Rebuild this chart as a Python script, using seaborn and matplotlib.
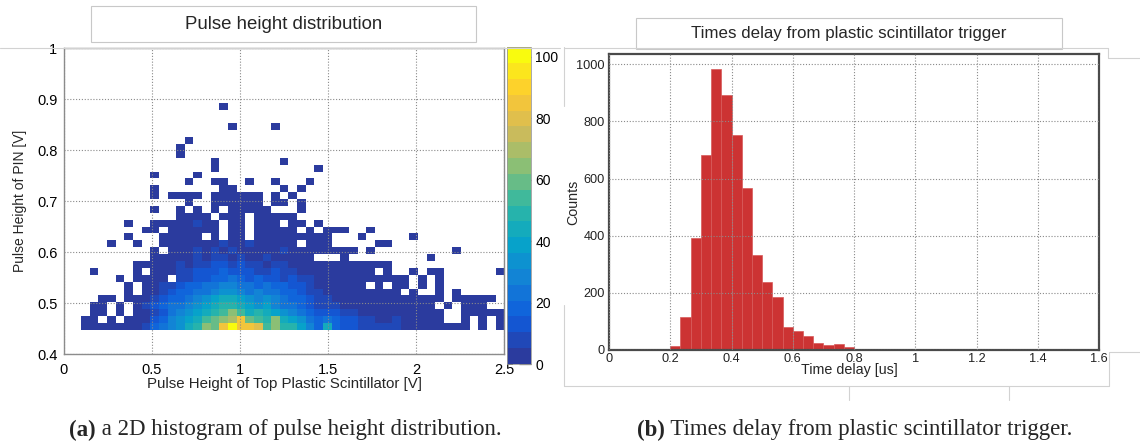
# Pulse height 2D histogram + time delay histogram (two-panel figure)

import numpy as np
import pandas as pd
import seaborn as sns
import matplotlib.pyplot as plt
from matplotlib.colors import LinearSegmentedColormap, ListedColormap
from matplotlib.patches import Rectangle
from matplotlib.lines import Line2D
from matplotlib.ticker import MultipleLocator, FormatStrFormatter

sns.set_style('white')
plt.rcParams['font.family'] = ['Liberation Sans', 'DejaVu Sans']

# ---- data: 2D histogram (x = top plastic scintillator, y = PIN) ----
x_edges = list(np.linspace(0.1, 2.5, 50))      # 49 bins
y_edges = list(np.linspace(0.448, 0.893, 34))  # 33 bins
# one string per y bin (top row first), one char per x bin, '.' = empty
ph_rows = [
    ".......... ......1... .......... .......... .........",
    ".......... .......... .......... .......... .........",
    ".......... .......... .......... .......... .........",
    ".......... .......1.. ..1....... .......... .........",
    ".......... .......... .......... .......... .........",
    ".......... ..1....... .......... .......... .........",
    ".......... .1........ .......... .......... .........",
    ".......... .1........ .......... .......... .........",
    ".......... .....1.... ...1...... .......... .........",
    ".......... .....1.... .......1.. .......... .........",
    "........1. ...1...... .......... .......... .........",
    ".......... ..1..11..1 ..1...1... .......... .........",
    "........1. ......11.. ...1.1.... .......... .........",
    "........1. 1111.11111 1.1.1..... .......... .........",
    ".......... ..1..11111 1.11.1.... .......... .........",
    "........1. .1.1.1.111 11...1.... .......... .........",
    ".......... .1111.111. 11111..... .......... .........",
    ".....1..11 111211.11. 111.11.1.. .......... .........",
    ".......11. 111111.11. 11111.1.11 1..1...... .........",
    ".....1...1 1111.1.11. 111111111. ..1.....1. .........",
    "...1..1..1 1111112112 11111.111. ....11.... .........",
    "........1. 1112121211 1112111111 11.1...... ...1.....",
    "........11 1112122121 1211111... 1......... 1........",
    "......1111 1212233232 2122111111 111111.... .........",
    ".1....1.11 1223334333 2232211111 1111.1..1. 11......1",
    "....1.1111 .223344543 4332322111 11111111.1 .1.......",
    ".....1.112 2344556655 4544332111 111.1.11.1 .1.......",
    ".....1.112 3445567765 6554432211 1111111.1. .1.1.....",
    "..11.11123 4456789987 6765443221 1111111111 11.11111.",
    ".11.1.1234 556789aa98 7865543222 1111111111 1.1.111..",
    ".11.1.1123 56789abdb9 a987654333 2211111111 11..11111",
    "11.1.11134 6789bcdehc bad9875454 3322112111 11..1.1.1",
    "1111111245 679adchkhh gbdaa86494 3322222111 11111.1.1",
]
# approximate counts for each colour band character
level_counts = {'1': 3, '2': 8, '3': 13, '4': 18, '5': 23, '6': 28, '7': 33,
                '8': 38, '9': 43, 'a': 48, 'b': 54, 'c': 59, 'd': 64, 'e': 69,
                'f': 74, 'g': 79, 'h': 85, 'i': 90, 'j': 95, 'k': 103}

# ---- data: time delay histogram ----
t_edges = list(0.2 + np.arange(25) / 30)
t_counts = [15, 115, 391, 681, 985, 893, 754, 568, 333, 239, 184, 80,
            66, 50, 25, 18, 21, 12, 5, 2, 3, 3, 5, 1]

# ROOT kBird-like palette (bottom stop nudged bluer), 20 contour levels
bird_stops = [0.0, 0.125, 0.25, 0.375, 0.5, 0.625, 0.75, 0.875, 1.0]
bird_r = [0.1700, 0.0592, 0.0780, 0.0232, 0.1802, 0.5301, 0.8186, 0.9956, 0.9764]
bird_g = [0.2300, 0.3599, 0.5041, 0.6419, 0.7178, 0.7492, 0.7328, 0.7862, 0.9832]
bird_b = [0.6200, 0.8684, 0.8385, 0.7914, 0.6425, 0.4662, 0.3499, 0.1968, 0.0539]
bird = LinearSegmentedColormap.from_list(
    'bird', list(zip(bird_stops, zip(bird_r, bird_g, bird_b))))
bird20 = ListedColormap(bird(np.linspace(0, 1, 20)))

# turn the row strings into a long table of weighted cell centres
recs = []
n_rows = len(ph_rows)
for i, row in enumerate(ph_rows):
    row = row.replace(' ', '')
    assert len(row) == len(x_edges) - 1, (i, len(row))
    iy = n_rows - 1 - i
    for ix, ch in enumerate(row):
        if ch != '.':
            recs.append(((x_edges[ix] + x_edges[ix + 1]) / 2,
                         (y_edges[iy] + y_edges[iy + 1]) / 2,
                         level_counts[ch]))
cells = pd.DataFrame(recs, columns=['ph_top', 'ph_pin', 'n'])

t_mid = [(a + b) / 2 for a, b in zip(t_edges[:-1], t_edges[1:])]
t_df = pd.DataFrame({'delay': t_mid, 'n': t_counts})

W, H = 1140, 445
fig = plt.figure(figsize=(W / 100, H / 100), dpi=100)


def fx(px):
    return px / W


def fy(py):
    return 1 - py / H


def box(l, t, r, b):
    return [fx(l), fy(b), (r - l) / W, (b - t) / H]


# faint frame lines left over from the screenshots
frame_lines = [((0, 47.5), (560, 47.5)), ((564, 47), (564, 106)),
               ((564, 305), (564, 386)), ((564, 48), (1108, 48)),
               ((1108, 48), (1108, 57.5)), ((1108, 57.5), (1140, 57.5)),
               ((564, 386), (1109, 386)), ((849, 386), (849, 400)),
               ((1009, 386), (1009, 400)), ((1109, 352), (1109, 386)),
               ((1109, 352), (1140, 352))]
for (x0, y0), (x1, y1) in frame_lines:
    fig.add_artist(Line2D([fx(x0), fx(x1)], [fy(y0), fy(y1)],
                          transform=fig.transFigure, color='#d2d2d2', lw=0.8))

ax1 = fig.add_axes(box(63.6, 48, 504.3, 354.4))
cax = fig.add_axes(box(506.7, 47.3, 531, 364))
ax2 = fig.add_axes(box(609, 54.3, 1099, 350))

sns.histplot(data=cells, x='ph_top', y='ph_pin', weights='n',
             bins=[x_edges, y_edges], cmap=bird20, vmin=0, vmax=103,
             cbar=True, cbar_ax=cax, ax=ax1)

sns.histplot(data=t_df, x='delay', weights='n', bins=t_edges,
             color='#cc3333', alpha=1, edgecolor='#d85a5a', linewidth=0.5,
             ax=ax2)

grid_kw = dict(color='#8a8a8a', linestyle=(0, (1, 1.6)), linewidth=0.8)

# left panel
ax1.set_xlim(0, 2.5)
ax1.set_ylim(0.4, 1.0)
ax1.xaxis.set_major_locator(MultipleLocator(0.5))
ax1.xaxis.set_minor_locator(MultipleLocator(0.1))
ax1.yaxis.set_major_locator(MultipleLocator(0.1))
ax1.yaxis.set_minor_locator(MultipleLocator(0.02))
ax1.xaxis.set_major_formatter(FormatStrFormatter('%g'))
ax1.yaxis.set_major_formatter(FormatStrFormatter('%g'))
ax1.grid(True, which='major', **grid_kw)
ax1.set_axisbelow(False)
ax1.tick_params(which='both', direction='in', colors='#555555',
                labelcolor='black', labelsize=10.5)
ax1.tick_params(which='major', length=8.5, width=0.9)
ax1.tick_params(which='minor', length=4.5, width=0.8)
ax1.tick_params(axis='x', pad=6)
ax1.tick_params(axis='y', pad=4.5)
for s in ax1.spines.values():
    s.set_color('#8c8c8c')
    s.set_linewidth(1.0)
ax1.set_xlabel('Pulse Height of Top Plastic Scintillator [V]', fontsize=10.8)
ax1.set_ylabel('Pulse Height of PIN [V]', fontsize=10)
ax1.xaxis.label.set_va('center')
ax1.yaxis.label.set_va('center')
ax1.xaxis.set_label_coords(0.502, -0.095)
ax1.yaxis.set_label_coords(-0.099, 0.5)

# colour bar
cax.set_yticks([0, 20, 40, 60, 80, 100])
cax.yaxis.set_major_formatter(FormatStrFormatter('%g'))
cax.tick_params(axis='y', direction='in', length=9, width=0.9,
                colors='#555555', labelcolor='black', labelsize=10, pad=3,
                right=True, left=False)
cax.minorticks_off()
cax.spines[:].set_color('#9a9a9a')
cax.spines[:].set_linewidth(0.6)

# right panel
ax2.set_xlim(0, 1.6)
ax2.set_ylim(0, 1035)
ax2.xaxis.set_major_locator(MultipleLocator(0.2))
ax2.xaxis.set_minor_locator(MultipleLocator(0.05))
ax2.yaxis.set_major_locator(MultipleLocator(200))
ax2.yaxis.set_minor_locator(MultipleLocator(50))
ax2.xaxis.set_major_formatter(FormatStrFormatter('%g'))
ax2.yaxis.set_major_formatter(FormatStrFormatter('%g'))
ax2.grid(True, which='major', **grid_kw)
ax2.set_axisbelow(False)
ax2.tick_params(which='both', direction='in', colors='#444444',
                labelcolor='#222222', labelsize=9.2)
ax2.tick_params(axis='y', which='major', length=12, width=1.0, pad=3)
ax2.tick_params(axis='y', which='minor', length=7, width=0.9)
ax2.tick_params(axis='x', which='major', length=7, width=1.0, pad=2)
ax2.tick_params(axis='x', which='minor', length=4, width=0.9)
for s in ax2.spines.values():
    s.set_color('#4a4a4a')
    s.set_linewidth(1.6)
ax2.set_xlabel('Time delay [us]', fontsize=10.3)
ax2.set_ylabel('Counts', fontsize=10.3)
ax2.xaxis.label.set_va('center')
ax2.yaxis.label.set_va('center')
ax2.xaxis.set_label_coords(0.49, -0.068)
ax2.yaxis.set_label_coords(-0.073, 0.5)

# title boxes
for (l, t, r, b), txt, fs in [((91, 6.5, 476, 42), 'Pulse height distribution', 13.4),
                              ((635.5, 17.5, 1061.6, 49), 'Times delay from plastic scintillator trigger', 12.2)]:
    fig.add_artist(Rectangle((fx(l), fy(b)), (r - l) / W, (b - t) / H,
                             transform=fig.transFigure, facecolor='white',
                             edgecolor='#c8c8c8', linewidth=0.8))
    fig.text(fx((l + r) / 2), fy((t + b) / 2), txt, fontsize=fs,
             ha='center', va='center')

# sub-figure captions, centred under each panel
cap_kw = dict(fontsize=16.5, family=['Liberation Serif', 'DejaVu Serif'], va='center')
renderer = fig.canvas.get_renderer()
for xc, tag, rest in [(285, '(a)', ' a 2D histogram of pulse height distribution.'),
                      (855, '(b)', ' Times delay from plastic scintillator trigger.')]:
    t1 = fig.text(0, fy(430), tag, fontweight='bold', **cap_kw)
    t2 = fig.text(0, fy(430), rest, **cap_kw)
    w1 = t1.get_window_extent(renderer=renderer).width
    w2 = t2.get_window_extent(renderer=renderer).width
    x0 = xc - (w1 + w2) / 2
    t1.set_x(fx(x0))
    t2.set_x(fx(x0 + w1))

fig.savefig('out.png', dpi=100)
